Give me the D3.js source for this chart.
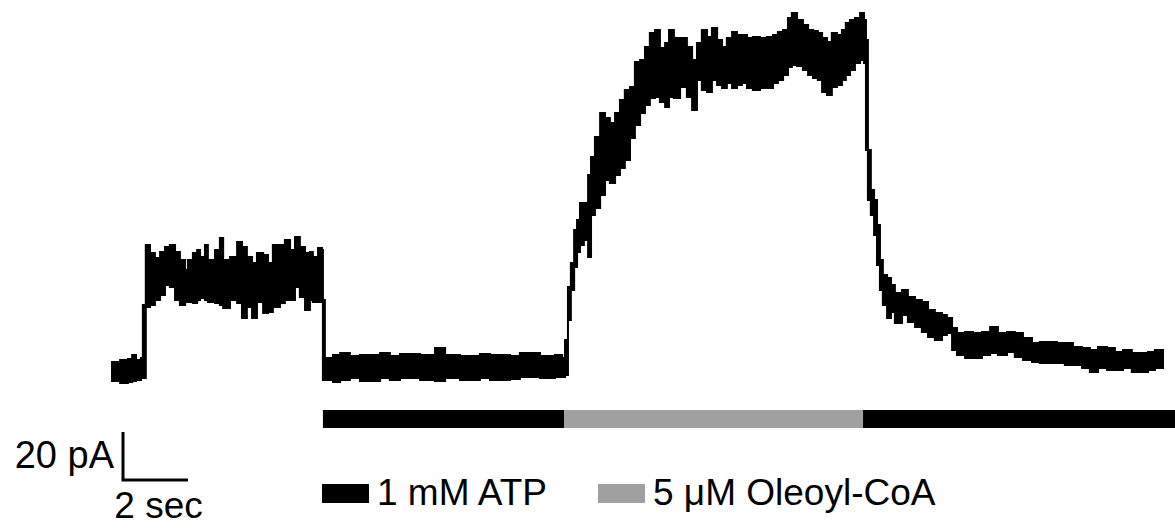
<!DOCTYPE html>
<html>
<head>
<meta charset="utf-8">
<script src="https://cdn.jsdelivr.net/npm/d3@7"></script>
<style>
  body { margin: 0; background: #fff; }
  svg { display: block; }
  text { font-family: "Liberation Sans", Arial, sans-serif; fill: #000; }
</style>
</head>
<body>
<div id="chart"></div>
<script>

///// Data (time in sec, current in pA)

var traceTime = [
  0, 0.25, 0.49, 0.62, 0.74, 0.89, 0.95,
  1.04, 1.17, 1.32, 1.48, 1.63, 1.78, 1.94, 2.09, 2.25, 2.34, 2.49, 2.62, 2.71, 2.86, 2.95,
  3.17, 3.32, 3.42, 3.63, 3.85, 4.00, 4.15, 4.31, 4.46, 4.65, 4.80, 4.95, 5.17, 5.32, 5.48,
  5.63, 5.78, 5.94, 6.09, 6.18, 6.34, 6.46, 6.49,
  6.55, 6.80, 7.02, 7.32, 7.63, 8.25, 8.55, 8.86, 9.48, 9.94, 10.25, 10.71, 11.32, 11.63,
  12.25, 12.55, 13.17, 13.63, 13.85,
  13.94, 14.03, 14.12, 14.22, 14.31, 14.40, 14.52, 14.65, 14.74, 14.86, 15.02, 15.17, 15.32,
  15.48, 15.63, 15.78, 15.94, 16.09, 16.25, 16.40, 16.55, 16.71, 16.86, 17.02, 17.14, 17.29,
  17.48, 17.69, 17.85, 18.00, 18.15, 18.31, 18.46, 18.62, 18.77, 18.92, 19.08, 19.23, 19.38,
  19.54, 19.72, 19.94, 20.15, 20.34, 20.49, 20.65, 20.80, 20.92, 21.08, 21.26, 21.42, 21.57,
  21.72, 21.85, 22.00, 22.15, 22.31, 22.46, 22.58, 22.71, 22.86, 23.02, 23.14,
  23.20, 23.26, 23.35, 23.45, 23.54, 23.63, 23.72, 23.85, 23.97, 24.09, 24.31, 24.49, 24.71,
  24.92, 25.11, 25.32, 25.54, 25.69, 25.85, 26.00, 26.25, 26.49, 26.77, 27.02, 27.26, 27.54,
  27.78, 28.03, 28.31, 28.55, 28.80, 29.08, 29.32, 29.57, 29.85, 30.09, 30.34, 30.62, 30.86,
  31.11, 31.38, 31.63, 31.88, 32.09, 32.34
];

var traceUpper = [
  4.2, 5.0, 5.4, 7.1, 5.0, 5.8, 27.9,
  52.9, 49.6, 47.5, 50.0, 52.1, 52.9, 50.0, 46.7, 42.5, 46.7, 49.6, 50.8, 47.9, 52.9, 46.7,
  50.8, 55.8, 46.7, 47.9, 54.2, 52.1, 47.9, 45.4, 49.6, 48.8, 45.4, 52.9, 52.9, 55.0, 50.8,
  56.3, 52.1, 49.6, 50.0, 47.9, 51.7, 50.8, 30.0,
  5.8, 7.1, 7.9, 6.7, 7.1, 7.9, 6.7, 7.5, 7.1, 10.0, 7.1, 6.7, 7.5, 7.1,
  6.7, 7.9, 6.7, 7.1, 5.8,
  13.3, 35.4, 45.4, 59.2, 63.3, 70.4, 70.4, 82.1, 89.6, 97.9, 107.9, 105.8, 103.8,
  107.9, 113.3, 117.5, 118.8, 129.2, 130.0, 135.4, 141.3, 142.5, 135.0, 137.1, 142.5, 139.2,
  139.2, 135.4, 130.0, 137.1, 142.5, 139.6, 143.3, 138.3, 135.4, 139.2, 141.7, 140.4, 140.4,
  139.2, 139.6, 139.2, 139.6, 140.4, 141.7, 142.5, 147.5, 149.6, 146.7, 144.6, 142.5, 142.1,
  141.3, 139.2, 137.5, 141.3, 140.4, 142.5, 145.4, 146.7, 147.5, 149.6, 146.7,
  138.3, 92.5, 75.8, 71.7, 61.3, 46.7, 40.4, 39.2, 36.3, 32.9, 34.2, 31.3, 30.0,
  29.2, 25.8, 24.6, 23.8, 22.5, 18.3, 16.3, 16.7, 16.3, 16.7, 18.8, 16.3, 16.7,
  16.3, 14.2, 12.1, 12.5, 12.5, 12.1, 12.1, 10.4, 10.0, 9.2, 10.4, 10.0, 8.3,
  9.2, 7.9, 7.9, 8.3, 9.2, 7.9
];

var traceLower = [
  -3.8, -4.6, -4.2, -3.8, -3.3, -2.5, -2.5,
  27.1, 27.9, 30.0, 32.1, 36.3, 35.4, 30.0, 27.9, 29.2, 29.2, 28.8, 30.0, 30.8, 30.0, 29.2,
  28.8, 27.9, 26.7, 30.0, 28.8, 22.5, 27.1, 22.5, 29.2, 24.6, 25.0, 27.1, 28.8, 30.0, 30.0,
  35.4, 31.3, 25.8, 30.0, 29.2, 29.2, 30.0, -3.3,
  -3.3, -4.2, -3.3, -2.5, -3.8, -2.5, -3.3, -2.5, -3.3, -3.8, -2.5, -3.3, -2.5, -3.3,
  -2.9, -2.1, -2.5, -2.1, -2.1,
  -1.3, 21.7, 34.2, 43.8, 50.0, 52.9, 55.0, 47.9, 65.4, 68.3, 73.8, 80.0, 78.8,
  82.1, 85.0, 88.3, 97.5, 102.9, 107.9, 111.3, 114.2, 114.6, 112.5, 110.4, 114.6, 114.2,
  118.8, 114.6, 109.2, 121.7, 117.5, 116.7, 121.7, 119.6, 118.3, 120.4, 118.3, 119.6, 120.4,
  118.3, 117.5, 118.3, 118.3, 120.4, 121.7, 123.8, 127.1, 127.9, 127.5, 125.8, 123.8, 122.5,
  121.7, 116.7, 115.4, 118.8, 119.6, 121.7, 123.8, 125.8, 128.8, 130.0, 128.8,
  92.5, 71.7, 65.4, 57.1, 44.6, 34.2, 27.9, 22.5, 25.0, 20.4, 23.8, 20.8, 18.8,
  16.7, 14.6, 13.3, 15.4, 16.3, 9.2, 7.1, 5.8, 5.8, 7.1, 7.9, 7.1, 8.3,
  6.3, 5.0, 4.2, 3.8, 3.8, 3.8, 2.9, 2.9, 1.7, 0, 1.7, 0.8, 0.8,
  1.7, 0, 0, 0.8, 1.7, 2.9
];

// solution bar under the trace
var barStart = [6.49, 13.91, 23.11];
var barEnd = [13.91, 23.11, 32.71];
var barSolution = ["ATP", "Oleoyl", "ATP"];

// legend
var legendKeys = ["ATP", "Oleoyl"];
var legendLabels = ["1 mM ATP", "5 \u03bcM Oleoyl-CoA"];
var solutionColors = ["#000000", "#a0a0a0"];

// scale bar
var scaleTime = 2;
var scaleCurrent = 20;
var scaleTimeLabel = "2 sec";
var scaleCurrentLabel = "20 pA";


///// D3

var width = 1175, height = 531;

var svg = d3.select("#chart")
  .append("svg")
    .attr("width", width)
    .attr("height", height);

// Set the ranges
var x = d3.scaleLinear().domain([0, 32.34]).range([112, 1163]);
var y = d3.scaleLinear().domain([-10, 150]).range([396, 12]);
var color = d3.scaleOrdinal().domain(legendKeys).range(solutionColors);

var traceData = traceTime.map(function(t, i) {
  return { t: t, hi: traceUpper[i], lo: traceLower[i] };
});

// Trace drawn as its noise envelope
var envelope = d3.area()
  .curve(d3.curveStepAfter)
  .x(function(d) { return x(d.t); })
  .y0(function(d) { return y(d.lo); })
  .y1(function(d) { return y(d.hi); });

svg.append("path")
  .datum(traceData)
  .attr("d", envelope)
  .attr("fill", "#000")
  .attr("stroke", "#000")
  .attr("stroke-width", 2)
  .attr("stroke-linejoin", "miter");

// Solution bar
var bars = barStart.map(function(s, i) {
  return { s: s, e: barEnd[i], k: barSolution[i] };
});

svg.selectAll("rect.bar")
  .data(bars)
  .enter().append("rect")
    .attr("class", "bar")
    .attr("x", function(d) { return x(d.s); })
    .attr("width", function(d) { return x(d.e) - x(d.s); })
    .attr("y", 410)
    .attr("height", 18)
    .attr("fill", function(d) { return color(d.k); });

// Scale bar
var sb = svg.append("g").attr("transform", "translate(123,480)");
var sbW = x(scaleTime) - x(0);
var sbH = y(0) - y(scaleCurrent);

sb.append("path")
  .attr("d", "M0," + (-sbH) + "V0H" + sbW)
  .attr("fill", "none")
  .attr("stroke", "#000")
  .attr("stroke-width", 3);

sb.append("text")
  .attr("x", -9)
  .attr("y", -12)
  .attr("text-anchor", "end")
  .attr("font-size", 38)
  .text(scaleCurrentLabel);

sb.append("text")
  .attr("x", sbW / 2 + 3)
  .attr("y", 38)
  .attr("text-anchor", "middle")
  .attr("font-size", 37)
  .text(scaleTimeLabel);

// Legend
var legendX = [322, 598];
var legend = svg.selectAll("g.legend")
  .data(legendKeys)
  .enter().append("g")
    .attr("class", "legend")
    .attr("transform", function(d, i) { return "translate(" + legendX[i] + ",484)"; });

legend.append("rect")
  .attr("width", 47)
  .attr("height", 19)
  .attr("fill", function(d) { return color(d); });

legend.append("text")
  .attr("x", 55)
  .attr("y", 21)
  .attr("font-size", 37)
  .text(function(d, i) { return legendLabels[i]; });

</script>
</body>
</html>
